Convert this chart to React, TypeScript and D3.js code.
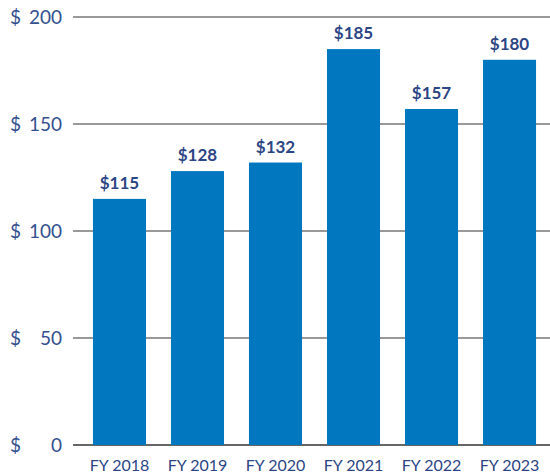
import React, { useEffect, useRef } from "react";
import * as d3 from "d3";

const categories = ["FY 2018", "FY 2019", "FY 2020", "FY 2021", "FY 2022", "FY 2023"];
const values = [115, 128, 132, 185, 157, 180];
const yTicks = [0, 50, 100, 150, 200];

const WIDTH = 550;
const HEIGHT = 476;

export default function App() {
  const svgRef = useRef<SVGSVGElement>(null);

  useEffect(() => {
    const svg = d3.select(svgRef.current);
    svg.selectAll("*").remove();

    const font = "Lato, 'Open Sans', sans-serif";
    const navy = "#2c4584";

    const x = d3.scaleBand<string>().domain(categories).range([68, 561]).padding(0.32);
    const y = d3.scaleLinear().domain([0, 200]).range([445, 17]);

    // gridlines
    svg.append("g")
      .selectAll("line")
      .data(yTicks)
      .join("line")
      .attr("x1", 73)
      .attr("x2", WIDTH)
      .attr("y1", d => y(d))
      .attr("y2", d => y(d))
      .attr("stroke", d => (d === 0 ? "#333" : "#777"))
      .attr("stroke-width", 1.5);

    // y tick labels: "$" left, number right
    const yl = svg.append("g").attr("font-family", font).attr("font-size", 19).attr("fill", "#34508f");
    yl.selectAll("text.dollar")
      .data(yTicks)
      .join("text")
      .attr("class", "dollar")
      .attr("x", 10)
      .attr("y", d => y(d) + 7)
      .text("$");
    yl.selectAll("text.num")
      .data(yTicks)
      .join("text")
      .attr("class", "num")
      .attr("x", 62)
      .attr("y", d => y(d) + 7)
      .attr("text-anchor", "end")
      .text(d => d);

    // bars
    svg.append("g")
      .selectAll("rect")
      .data(values)
      .join("rect")
      .attr("x", (d, i) => x(categories[i])!)
      .attr("y", d => y(d))
      .attr("width", x.bandwidth())
      .attr("height", d => y(0) - y(d))
      .attr("fill", "#0077bf");

    // value labels
    svg.append("g")
      .selectAll("text")
      .data(values)
      .join("text")
      .attr("x", (d, i) => x(categories[i])! + x.bandwidth() / 2)
      .attr("y", d => y(d) - 10)
      .attr("text-anchor", "middle")
      .attr("font-family", font)
      .attr("font-size", 17)
      .attr("font-weight", "bold")
      .attr("fill", navy)
      .text(d => "$" + d);

    // x labels
    svg.append("g")
      .selectAll("text")
      .data(categories)
      .join("text")
      .attr("x", d => x(d)! + x.bandwidth() / 2)
      .attr("y", 471)
      .attr("text-anchor", "middle")
      .attr("font-family", font)
      .attr("font-size", 16)
      .attr("fill", navy)
      .text(d => d);
  }, []);

  return (
    <svg
      ref={svgRef}
      width={WIDTH}
      height={HEIGHT}
      style={{ position: "absolute", left: 0, top: 0 }}
    />
  );
}
